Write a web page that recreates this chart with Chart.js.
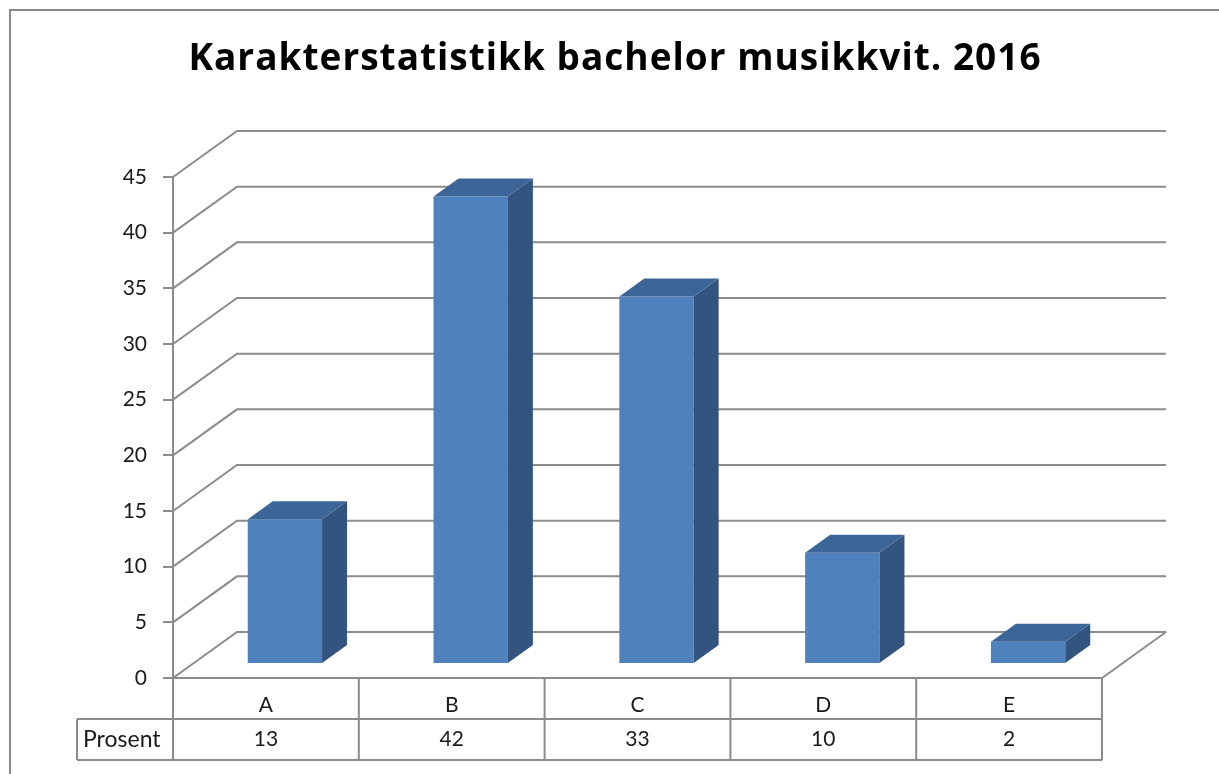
<!DOCTYPE html>
<html>
<head>
<meta charset="utf-8">
<script src="https://cdn.jsdelivr.net/npm/chart.js@4"></script>
<style>
  html, body { margin: 0; padding: 0; background: #fff; }
  #wrap { width: 1219px; height: 774px; position: relative; }
</style>
</head>
<body>
<div id="wrap"><canvas id="grades"></canvas></div>
<script>
const TITLE = "Karakterstatistikk bachelor musikkvit. 2016";
const grades = ["A", "B", "C", "D", "E"];
const prosent = [13, 42, 33, 10, 2];
const seriesName = "Prosent";
const yTicks = [0, 5, 10, 15, 20, 25, 30, 35, 40, 45];

const LINE = "#8c8c8c";
const FONT = "Lato, 'Open Sans', sans-serif";
// oblique depth of the 3d box, and where the bars sit inside it
const DEPTH = { dx: 64, dy: -46 };
const BAR_SHIFT = { dx: 19, dy: -14 };
const BAR_DEPTH = { dx: 25, dy: -18 };

const box3d = {
  id: "box3d",
  beforeDraw(chart) {
    const { ctx } = chart;
    ctx.save();
    ctx.strokeStyle = "#898989";
    ctx.lineWidth = 2;
    ctx.strokeRect(10, 10, 1240, 800);
    // title, centred on the whole chart box like the original
    ctx.fillStyle = "#000";
    ctx.font = "bold 37px 'Open Sans', sans-serif";
    ctx.letterSpacing = "1px";
    ctx.textAlign = "center";
    ctx.textBaseline = "alphabetic";
    ctx.fillText(TITLE, 615, 70);
    ctx.restore();
  },
  beforeDatasetsDraw(chart) {
    const { ctx, chartArea } = chart;
    const y = chart.scales.y;
    const left = chartArea.left, right = chartArea.right;
    ctx.save();
    ctx.strokeStyle = LINE;
    ctx.lineWidth = 2;
    yTicks.forEach((v) => {
      const py = y.getPixelForValue(v);
      ctx.beginPath();
      ctx.moveTo(left, py);
      ctx.lineTo(left + DEPTH.dx, py + DEPTH.dy);
      ctx.lineTo(right + DEPTH.dx, py + DEPTH.dy);
      ctx.stroke();
    });
    // floor
    const p0 = y.getPixelForValue(0);
    ctx.beginPath();
    ctx.moveTo(left, p0);
    ctx.lineTo(right, p0);
    ctx.lineTo(right + DEPTH.dx, p0 + DEPTH.dy);
    ctx.stroke();
    ctx.restore();

    ctx.save();
    ctx.translate(BAR_SHIFT.dx, BAR_SHIFT.dy);
  },
  afterDatasetsDraw(chart) {
    const { ctx } = chart;
    const meta = chart.getDatasetMeta(0);
    meta.data.forEach((bar) => {
      const { x, y, base, width } = bar.getProps(["x", "y", "base", "width"], true);
      const l = x - width / 2, r = x + width / 2;
      // side
      ctx.fillStyle = "#33547f";
      ctx.beginPath();
      ctx.moveTo(r, y);
      ctx.lineTo(r + BAR_DEPTH.dx, y + BAR_DEPTH.dy);
      ctx.lineTo(r + BAR_DEPTH.dx, base + BAR_DEPTH.dy);
      ctx.lineTo(r, base);
      ctx.closePath();
      ctx.fill();
      // top
      ctx.fillStyle = "#3c6698";
      ctx.beginPath();
      ctx.moveTo(l, y);
      ctx.lineTo(l + BAR_DEPTH.dx, y + BAR_DEPTH.dy);
      ctx.lineTo(r + BAR_DEPTH.dx, y + BAR_DEPTH.dy);
      ctx.lineTo(r, y);
      ctx.closePath();
      ctx.fill();
    });
    ctx.restore();
  },
  afterDraw(chart) {
    const { ctx, chartArea } = chart;
    const x = chart.scales.x;
    const top = chartArea.bottom;
    const row1 = top + 41, row2 = top + 82;
    const half = (x.getPixelForValue(1) - x.getPixelForValue(0)) / 2;
    ctx.save();
    ctx.strokeStyle = LINE;
    ctx.lineWidth = 2;
    ctx.beginPath();
    ctx.moveTo(77, row1); ctx.lineTo(chartArea.right, row1);
    ctx.moveTo(77, row2); ctx.lineTo(chartArea.right, row2);
    ctx.moveTo(77, row1); ctx.lineTo(77, row2);
    ctx.moveTo(chartArea.left, top); ctx.lineTo(chartArea.left, row2);
    grades.forEach((g, i) => {
      const px = x.getPixelForValue(i) + half;
      ctx.moveTo(px, top); ctx.lineTo(px, row2);
    });
    ctx.stroke();

    ctx.fillStyle = "#1a1a1a";
    ctx.textBaseline = "middle";
    ctx.textAlign = "left";
    ctx.font = "23px " + FONT;
    ctx.fillText(seriesName, 83, (row1 + row2) / 2);
    ctx.textAlign = "center";
    ctx.font = "21px " + FONT;
    prosent.forEach((v, i) => {
      ctx.fillText(String(v), x.getPixelForValue(i), (row1 + row2) / 2);
    });
    ctx.restore();
  },
};

new Chart(document.getElementById("grades"), {
  type: "bar",
  data: {
    labels: grades,
    datasets: [{
      label: seriesName,
      data: prosent,
      backgroundColor: "#4f81bd",
      borderWidth: 0,
      categoryPercentage: 1,
      barPercentage: 0.4,
    }],
  },
  options: {
    responsive: true,
    maintainAspectRatio: false,
    animation: false,
    layout: { padding: { top: 177, left: 0, right: 117, bottom: 55 } },
    plugins: {
      legend: { display: false },
      tooltip: { enabled: false },
      title: { display: false },
    },
    scales: {
      x: {
        offset: true,
        grid: { display: false, drawTicks: false },
        border: { display: false },
        ticks: { color: "#1a1a1a", font: { family: FONT, size: 21 }, padding: 15 },
        afterFit: (s) => { s.height = 41; },
      },
      y: {
        min: 0,
        max: 45,
        afterBuildTicks: (s) => { s.ticks = yTicks.map((v) => ({ value: v })); },
        grid: { display: true, drawOnChartArea: false, drawTicks: true, tickLength: 10, color: LINE, lineWidth: 2 },
        border: { display: true, color: LINE, width: 2 },
        ticks: { color: "#1a1a1a", font: { family: FONT, size: 21 }, padding: 16 },
        afterFit: (s) => { s.width = 173; },
      },
    },
  },
  plugins: [box3d],
});
</script>
</body>
</html>
